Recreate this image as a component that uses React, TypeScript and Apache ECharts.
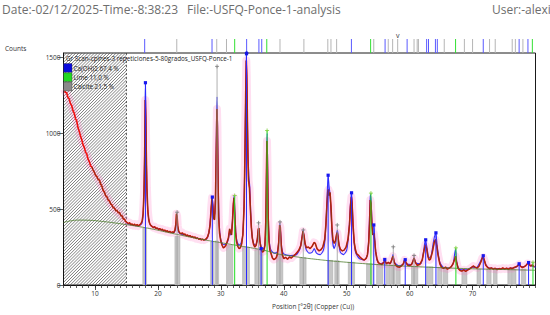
import React, { useEffect, useRef } from "react";
import * as echarts from "echarts";

// ---- data ----
const observed: [number, number][] = [
  [5.1,1292],[5.3,1270],[5.5,1268],[5.7,1238],[5.9,1228],[6.1,1196],[6.3,1184],[6.5,1150],[6.7,1134],[6.9,1098],
  [7.1,1082],[7.3,1038],[7.5,1014],[7.7,982],[7.9,958],[8.1,926],[8.3,908],[8.5,876],[8.7,864],[8.9,830],
  [9.1,814],[9.3,786],[9.5,778],[9.7,758],[9.9,744],[10.1,722],[10.3,716],[10.5,696],[10.7,692],[10.9,666],
  [11.1,652],[11.3,624],[11.5,614],[11.7,588],[11.9,582],[12.1,560],[12.3,554],[12.5,534],[12.7,528],[12.9,510],
  [13.1,508],[13.3,490],[13.5,492],[13.7,476],[13.9,478],[14.1,458],[14.3,456],[14.5,436],[14.7,434],[14.9,418],
  [15.1,412],[15.3,404],[15.5,411],[15.7,397],[15.9,403],[16.1,393],[16.3,401],[16.5,391],[16.7,399],[16.9,389],
  [17.1,397],[17.3,404],[17.5,422],[17.65,470],[17.8,620],[17.9,860],[18.0,1220],[18.08,1100],[18.15,880],[18.25,640],
  [18.4,490],[18.55,430],[18.7,405],[18.9,392],[19.1,385],[19.3,378],[19.5,384],[19.7,372],[19.9,376],[20.1,366],
  [20.3,372],[20.5,362],[20.7,368],[20.9,358],[21.1,362],[21.3,352],[21.5,358],[21.7,348],[21.9,354],[22.1,345],
  [22.3,350],[22.5,345],[22.7,362],[22.85,400],[22.95,470],[23.05,455],[23.15,390],[23.3,355],[23.5,342],[23.7,338],
  [23.9,344],[24.1,332],[24.3,336],[24.5,325],[24.7,330],[24.9,320],[25.1,326],[25.3,316],[25.5,320],[25.7,312],
  [25.9,316],[26.1,306],[26.3,310],[26.5,302],[26.7,306],[26.9,298],[27.1,302],[27.3,296],[27.5,300],[27.7,305],
  [27.9,318],[28.1,345],[28.3,400],[28.45,500],[28.6,575],[28.72,520],[28.85,440],[29.0,430],[29.15,560],[29.28,900],
  [29.38,1160],[29.46,1040],[29.55,700],[29.65,450],[29.8,340],[30.0,290],[30.2,262],[30.4,245],[30.6,250],[30.8,262],
  [31.0,285],[31.2,310],[31.4,370],[31.55,350],[31.7,330],[31.85,420],[32.0,540],[32.1,575],[32.2,480],[32.35,340],
  [32.5,285],[32.7,255],[32.9,240],[33.1,245],[33.3,270],[33.5,330],[33.7,520],[33.85,900],[33.95,1250],[34.05,1480],
  [34.12,1380],[34.2,1150],[34.3,850],[34.4,690],[34.55,640],[34.7,500],[34.85,380],[35.0,310],[35.2,268],[35.4,250],
  [35.6,262],[35.8,300],[35.95,370],[36.05,375],[36.2,290],[36.4,235],[36.6,218],[36.8,222],[37.0,260],[37.15,420],
  [37.25,750],[37.33,950],[37.42,780],[37.52,450],[37.65,290],[37.8,230],[38.0,205],[38.2,178],[38.4,168],[38.6,172],
  [38.8,180],[39.0,205],[39.2,280],[39.35,395],[39.45,380],[39.6,260],[39.8,195],[40.0,175],[40.3,182],[40.6,170],
  [40.9,185],[41.2,178],[41.5,190],[41.8,200],[42.1,215],[42.4,230],[42.7,260],[42.9,310],[43.05,355],[43.2,330],
  [43.4,270],[43.6,245],[43.9,250],[44.2,240],[44.5,255],[44.8,280],[45.0,275],[45.3,238],[45.6,225],[45.9,232],
  [46.2,250],[46.5,300],[46.7,400],[46.85,520],[47.0,620],[47.1,630],[47.2,590],[47.35,610],[47.5,520],[47.65,380],
  [47.8,300],[48.0,275],[48.2,290],[48.4,335],[48.5,345],[48.6,320],[48.8,260],[49.0,235],[49.3,225],[49.6,230],
  [49.9,250],[50.2,300],[50.45,400],[50.6,520],[50.75,580],[50.85,540],[51.0,400],[51.2,280],[51.4,230],[51.6,205],
  [51.9,195],[52.2,180],[52.5,170],[52.8,165],[53.1,175],[53.3,200],[53.5,280],[53.65,430],[53.75,560],[53.85,540],
  [54.0,400],[54.15,330],[54.3,340],[54.45,290],[54.6,220],[54.8,175],[55.0,148],[55.3,140],[55.6,135],[55.9,150],
  [56.1,160],[56.3,140],[56.6,150],[56.9,140],[57.15,165],[57.35,190],[57.55,150],[57.8,130],[58.1,120],[58.4,118],
  [58.7,125],[59.0,140],[59.2,165],[59.4,150],[59.7,130],[60.0,128],[60.3,135],[60.55,160],[60.7,178],[60.9,150],
  [61.2,130],[61.6,135],[62.0,165],[62.3,230],[62.5,265],[62.7,240],[62.9,190],[63.1,165],[63.3,170],[63.6,215],
  [63.9,280],[64.1,300],[64.3,260],[64.5,200],[64.8,140],[65.1,115],[65.4,110],[65.7,118],[66.0,105],[66.3,112],
  [66.6,120],[66.9,140],[67.15,170],[67.3,190],[67.45,150],[67.7,110],[68.0,95],[68.3,92],[68.6,100],[68.9,90],
  [69.2,98],[69.5,105],[69.8,115],[70.1,125],[70.4,118],[70.7,112],[71.0,122],[71.3,150],[71.55,178],[71.7,182],
  [71.9,160],[72.1,130],[72.4,115],[72.7,108],[73.0,112],[73.3,105],[73.6,110],[73.9,102],[74.2,108],[74.5,104],
  [74.8,112],[75.1,106],[75.4,110],[75.7,104],[76.0,112],[76.3,108],[76.6,115],[76.9,120],[77.2,128],[77.4,135],
  [77.6,125],[77.9,115],[78.2,120],[78.5,130],[78.75,142],[78.95,138],[79.2,125],[79.5,132],[79.8,120]
];

const calculated: [number, number][] = [
  [15,405],[16,396],[17,390],[17.5,410],[17.7,500],[17.85,750],[17.95,1150],[18.02,1334],[18.1,1100],[18.2,750],
  [18.35,520],[18.55,430],[18.8,395],[19.5,378],[20.5,365],[21.5,353],[22.5,345],[22.8,365],[22.95,420],[23.05,415],
  [23.2,360],[23.5,340],[24.5,328],[25.5,317],[26.5,305],[27.5,298],[27.9,315],[28.2,370],[28.45,490],[28.62,580],
  [28.75,530],[28.9,460],[29.05,470],[29.2,700],[29.32,1100],[29.4,1240],[29.48,1050],[29.6,650],[29.75,400],[29.95,310],
  [30.2,275],[30.5,265],[30.9,275],[31.2,300],[31.4,350],[31.55,330],[31.75,370],[31.95,500],[32.1,590],[32.25,470],
  [32.4,340],[32.6,285],[32.9,262],[33.2,275],[33.5,340],[33.7,560],[33.85,950],[33.97,1350],[34.05,1520],[34.15,1320],
  [34.3,900],[34.45,720],[34.6,650],[34.75,480],[34.95,330],[35.2,275],[35.5,262],[35.75,290],[35.95,360],[36.05,365],
  [36.25,285],[36.5,245],[36.8,240],[37.05,280],[37.2,500],[37.3,900],[37.36,1000],[37.45,750],[37.58,400],[37.75,270],
  [38.0,228],[38.5,210],[39.0,220],[39.25,320],[39.38,405],[39.5,350],[39.7,240],[40.0,205],[41.0,195],[42.0,200],
  [42.6,240],[42.9,320],[43.08,360],[43.25,310],[43.5,240],[44.0,210],[44.5,215],[44.85,240],[45.2,210],[45.8,200],
  [46.3,230],[46.6,320],[46.85,550],[47.05,724],[47.2,650],[47.35,600],[47.55,450],[47.75,290],[48.0,240],[48.25,270],
  [48.45,350],[48.55,360],[48.75,270],[49.0,215],[49.5,200],[50.0,230],[50.35,350],[50.6,540],[50.77,610],[50.9,520],
  [51.1,320],[51.4,215],[52.0,175],[52.8,165],[53.3,200],[53.55,350],[53.75,600],[53.9,540],[54.05,400],[54.2,395],
  [54.35,380],[54.55,250],[54.8,165],[55.3,140],[55.9,150],[56.05,168],[56.3,145],[57.0,145],[57.35,200],[57.6,150],
  [58.3,125],[59.0,140],[59.25,170],[59.5,140],[60.3,135],[60.7,180],[61.0,145],[61.8,140],[62.2,220],[62.5,298],
  [62.75,250],[63.05,180],[63.4,190],[63.8,290],[64.15,344],[64.4,250],[64.8,150],[65.3,118],[66.3,112],[66.9,140],
  [67.3,240],[67.5,150],[67.9,105],[69.0,100],[70.0,118],[70.6,115],[71.3,160],[71.65,193],[71.95,150],[72.5,115],
  [74.0,108],[76.0,110],[77.0,118],[77.35,140],[77.7,120],[78.4,125],[78.85,148],[79.2,128],[80,118]
];

const background: [number, number][] = [
  [5,412],[6,422],[7.5,428],[9,427],[11,420],[13,410],[15,398],[17,385],[19,370],[21,352],[23,334],[25,317],
  [27,301],[29,286],[31,272],[33,258],[35,244],[37,228],[39,205],[41,192],[43,180],[45,170],[47,161],[50,150],
  [53,140],[56,132],[60,123],[65,114],[70,107],[75,102],[80,97]
];

// [centre °2θ, width °2θ, height counts]
const grayBars: [number, number, number][] = [
  [17.9,0.6,376],[23.1,0.8,320],[28.6,0.5,285],[29.35,0.6,290],[31.4,1.0,262],[34.0,1.1,250],[36.05,1.3,235],
  [39.35,1.0,205],[43.05,1.0,180],[47.4,0.8,162],[48.45,0.7,160],[50.75,1.0,150],[53.6,0.9,140],[55.25,1.0,135],
  [56.6,0.6,130],[57.35,0.7,130],[58.2,0.6,128],[60.8,1.0,125],[63.2,1.0,120],[64.8,0.7,115],[65.7,0.7,115],
  [68.7,0.8,100],[71.0,0.6,105],[72.6,0.7,105],[73.6,0.6,105],[75.9,0.6,105],[76.6,0.6,105],[78.1,0.7,105]
];

// phase: 0 = Ca(OH)2, 1 = Lime, 2 = Calcite ; [position, height, phase]
const peakSticks: [number, number, number][] = [
  [18.02,1334,0],[28.65,580,0],[34.08,1525,0],[36.4,240,0],[47.05,724,0],[50.77,608,0],[54.3,396,0],[56.05,168,0],
  [59.3,167,0],[62.55,298,0],[64.18,344,0],[71.7,193,0],[77.4,140,0],[78.9,148,0],
  [32.2,590,1],[37.35,1019,1],[53.85,606,1],[67.35,245,1],[79.6,150,1],
  [23.05,480,2],[29.4,1442,2],[36.0,410,2],[39.4,416,2],[43.1,363,2],[48.5,396,2],[57.4,252,2],[60.7,195,2]
];

// reference lines in the strip above the plot: [position, phase, mark]
const topSticks: [number, number, number][] = [
  [17.9,0,0],[23.0,2,0],[28.6,0,0],[29.35,2,0],[30.9,2,0],[32.2,1,0],[34.1,0,1],[36.05,0,0],[36.5,0,0],[37.3,1,0],
  [39.4,2,0],[43.2,2,0],[47.0,2,0],[47.5,2,0],[48.4,2,0],[50.75,0,0],[53.8,1,0],[54.3,2,0],[56.1,0,0],[56.6,2,0],
  [57.3,2,0],[58.1,2,2],[59.6,0,0],[60.7,2,0],[61.2,2,0],[61.4,2,0],[62.7,0,0],[63.0,0,0],[64.1,0,0],[64.4,0,0],
  [65.5,2,0],[67.3,1,0],[68.7,2,0],[70.0,2,0],[71.7,0,0],[72.7,2,0],[73.6,2,0],[76.3,2,0],[76.8,2,0],[77.4,0,0],
  [78.0,2,0],[78.8,0,0],[79.5,1,0]
];

const excludedRange: [number, number][] = [[5, 15]];
const xTickLabels = [10, 20, 30, 40, 50, 60, 70];
const yTickLabels = [0, 500, 1000, 1500];
const legendNames = ["Ca(OH)2 67,4 %", "Lime 11,0 %", "Calcite 21,5 %"];
const scanName = "Gr Scan-cpines-3 repeticiones-5-80grados_USFQ-Ponce-1";
const headerDate = "Date:-02/12/2025-Time:-8:38:23";
const headerFile = "File:-USFQ-Ponce-1-analysis";
const headerUser = "User:-alexi";

const FONT = "'Open Sans', 'Noto Sans', sans-serif";
const phaseColors = ["#2a2aff", "#22dd22", "#9a9a9a"];
const topColors = ["#5a5aff", "#33e033", "#b5b5b5"];
const legendColors = ["#0a0adc", "#22d822", "#8a8a8a"];

export default function App() {
  const ref = useRef<HTMLDivElement>(null);
  useEffect(() => {
    if (!ref.current) return;
    const chart = echarts.init(ref.current, null, { renderer: "svg" });

    const option: any = {
      animation: false,
      backgroundColor: "#ffffff",
      grid: { left: 63.5, right: 14.5, top: 53, bottom: 30, show: true, borderColor: "#1a1a1a", borderWidth: 1, backgroundColor: "transparent" },
      xAxis: [
        {
          type: "value", min: 5, max: 80, interval: 1,
          axisLine: { show: true, lineStyle: { color: "#111", width: 1 } },
          axisTick: { show: true, length: 3, lineStyle: { color: "#333", width: 0.8 } },
          axisLabel: { show: false }, splitLine: { show: false }
        },
        {
          type: "value", min: 5, max: 80, position: "bottom",
          axisLine: { show: false },
          axisTick: { show: true, length: 5, customValues: xTickLabels, lineStyle: { color: "#222", width: 0.8 } },
          axisLabel: { show: true, customValues: xTickLabels, fontSize: 6.5, color: "#333", margin: 5, fontFamily: FONT },
          splitLine: { show: false }
        }
      ],
      yAxis: {
        type: "value", min: 0, max: 1530,
        axisLine: { show: true, lineStyle: { color: "#111", width: 1 } },
        axisTick: { show: true, length: 6, customValues: yTickLabels, lineStyle: { color: "#333", width: 0.8 } },
        axisLabel: { show: true, customValues: yTickLabels, formatter: (v: number) => String(v), fontSize: 6.5, color: "#333", margin: 3, fontFamily: FONT },
        splitLine: { show: false }
      },
      series: [
        {
          type: "custom", name: "excluded", silent: true, z: 0, data: excludedRange, encode: { x: [0, 1] },
          renderItem: (params: any, api: any) => {
            const cs = params.coordSys;
            const xa = api.coord([api.value(0), 0])[0];
            const xb = api.coord([api.value(1), 0])[0];
            const top = cs.y, h = cs.height, bottom = cs.y + cs.height;
            const lines: any[] = [];
            for (let s = xa - h; s < xb; s += 3.1) {
              lines.push({ type: "line", shape: { x1: s, y1: bottom, x2: s + h, y2: top }, style: { stroke: "#555", lineWidth: 0.75 } });
            }
            return {
              type: "group",
              children: [
                { type: "group", clipPath: { type: "rect", shape: { x: xa, y: top, width: xb - xa, height: h } }, children: lines },
                { type: "line", shape: { x1: xb, y1: top, x2: xb, y2: bottom }, style: { stroke: "#333", lineWidth: 0.8, lineDash: [2, 2] } }
              ]
            };
          }
        },
        {
          type: "custom", name: "bars", silent: true, z: 1, data: grayBars, encode: { x: 0, y: 2 },
          renderItem: (params: any, api: any) => {
            const c = api.value(0), w = api.value(1), hgt = api.value(2);
            const p0 = api.coord([c - w / 2, hgt]);
            const p1 = api.coord([c + w / 2, 0]);
            return { type: "rect", shape: { x: p0[0], y: p0[1], width: p1[0] - p0[0], height: p1[1] - p0[1] }, style: { fill: "#c6c6c6", stroke: "#a9a9a9", lineWidth: 0.5 } };
          }
        },
        {
          type: "line", name: "band", data: observed, showSymbol: false, silent: true, z: 2,
          lineStyle: { color: "rgba(255,110,190,0.22)", width: 8, join: "round" }
        },
        {
          type: "line", name: "calc", data: calculated, showSymbol: false, silent: true, z: 3, smooth: 0.2,
          lineStyle: { color: "#3434ff", width: 1.1 }
        },
        {
          type: "line", name: "observed", data: observed, showSymbol: false, silent: true, z: 4,
          lineStyle: { color: "#f01010", width: 1.6 }
        },
        {
          type: "line", name: "overlay", data: observed.filter((p) => p[0] >= 9.5), showSymbol: false, silent: true, z: 5,
          lineStyle: { color: "#5e4416", width: 0.7 }
        },
        {
          type: "line", name: "background", data: background, showSymbol: false, silent: true, z: 6, smooth: true,
          lineStyle: { color: "#4f7d2e", width: 0.8 }
        },
        {
          type: "custom", name: "sticks", silent: true, z: 7, data: peakSticks, encode: { x: 0, y: 1 },
          renderItem: (params: any, api: any) => {
            const pos = api.value(0), hgt = api.value(1), ph = api.value(2);
            const b = api.coord([pos, 0]);
            const t = api.coord([pos, hgt]);
            const col = phaseColors[ph];
            const children: any[] = [
              { type: "line", shape: { x1: b[0], y1: b[1], x2: t[0], y2: t[1] }, style: { stroke: col, lineWidth: ph === 2 ? 0.8 : 1 } }
            ];
            if (ph === 0) {
              children.push({ type: "rect", shape: { x: t[0] - 1.6, y: t[1] - 1.6, width: 3.2, height: 3.2 }, style: { fill: "#1818ee" } });
            } else {
              const mc = ph === 1 ? "#7ccf3a" : "#777";
              children.push({ type: "line", shape: { x1: t[0] - 2, y1: t[1], x2: t[0] + 2, y2: t[1] }, style: { stroke: mc, lineWidth: 0.8 } });
              children.push({ type: "line", shape: { x1: t[0], y1: t[1] - 2, x2: t[0], y2: t[1] + 2 }, style: { stroke: mc, lineWidth: 0.8 } });
            }
            return { type: "group", children };
          }
        },
        {
          type: "custom", name: "strip", silent: true, z: 8, clip: false, data: topSticks, encode: { x: 0 },
          renderItem: (params: any, api: any) => {
            const cs = params.coordSys;
            const pos = api.value(0), ph = api.value(1), mark = api.value(2);
            const x = api.coord([pos, 0])[0];
            const top = cs.y;
            const children: any[] = [
              { type: "line", shape: { x1: x, y1: top - 14, x2: x, y2: top }, style: { stroke: topColors[ph], lineWidth: 1 } }
            ];
            if (mark === 1) children.push({ type: "circle", shape: { cx: x, cy: top, r: 1.8 }, style: { fill: "#1515e0" } });
            if (mark === 2) children.push({ type: "text", x: x, y: top - 14, style: { text: "v", fontSize: 7, fill: "#333", align: "center", verticalAlign: "bottom", fontFamily: FONT } });
            return { type: "group", children };
          }
        }
      ],
      graphic: [
        { type: "text", left: 2, top: 3, style: { text: headerDate, fontSize: 12, fill: "#6e6e6e", fontFamily: FONT } },
        { type: "text", left: 187, top: 3, style: { text: headerFile, fontSize: 12, fill: "#6e6e6e", fontFamily: FONT } },
        { type: "text", x: 492, y: 3, style: { text: headerUser, fontSize: 12, fill: "#6e6e6e", fontFamily: FONT } },
        { type: "text", left: 5, top: 45, style: { text: "Counts", fontSize: 6.5, fill: "#333", fontFamily: FONT } },
        { type: "text", left: 272, top: 303, style: { text: "Position [°2θ] (Copper (Cu))", fontSize: 6.5, fill: "#333", fontFamily: FONT } },
        { type: "text", x: 66, y: 58, z: 20, style: { text: scanName, fontSize: 6.3, fill: "#222", verticalAlign: "middle", fontFamily: FONT } },
        ...legendNames.flatMap((name, i) => [
          { type: "rect", z: 20, shape: { x: 63.5, y: 63.5 + i * 9.3, width: 8.5, height: 8.8 }, style: { fill: legendColors[i], stroke: "#333", lineWidth: 0.4 } },
          { type: "text", z: 20, x: 73.5, y: 68 + i * 9.3, style: { text: name, fontSize: 6.3, fill: "#222", verticalAlign: "middle", fontFamily: FONT } }
        ])
      ]
    };

    chart.setOption(option);
    return () => chart.dispose();
  }, []);

  return <div ref={ref} style={{ position: "absolute", left: 0, top: 0, width: 550, height: 315 }} />;
}
